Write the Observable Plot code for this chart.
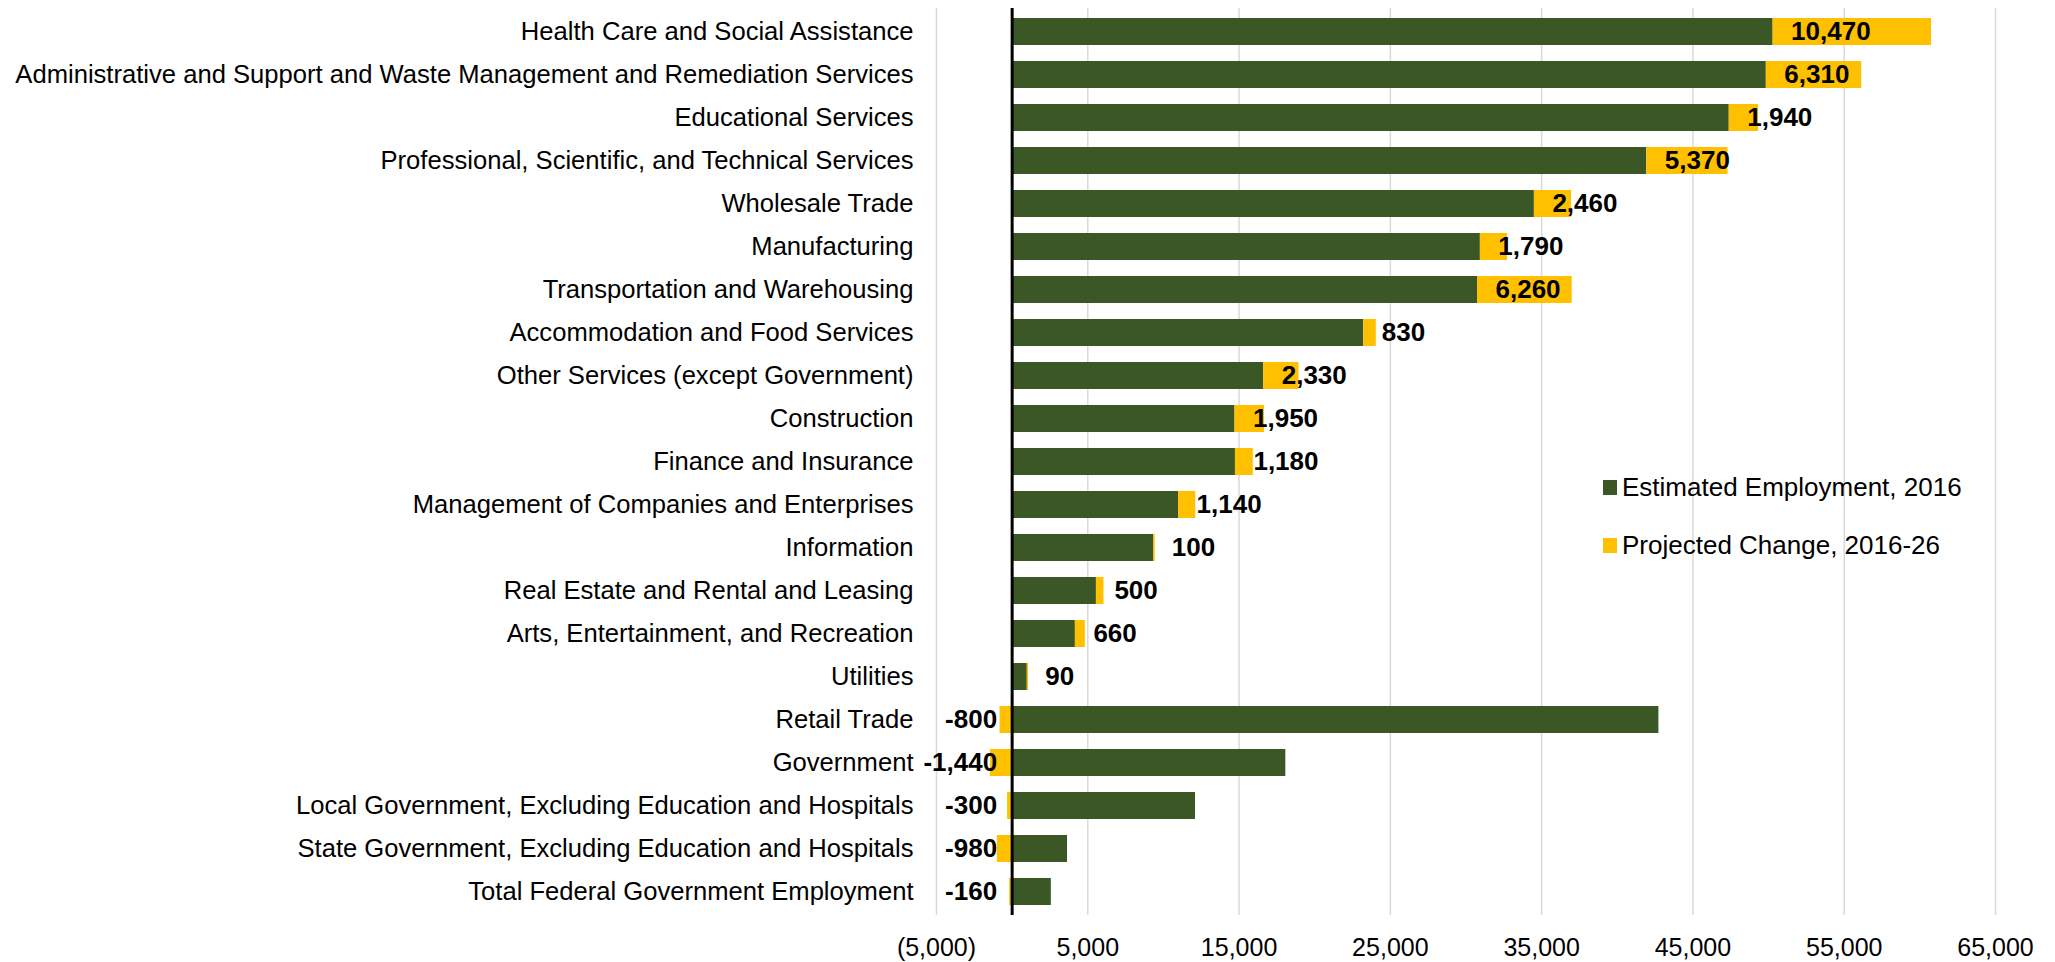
<!DOCTYPE html>
<html><head><meta charset="utf-8">
<script src="https://cdn.jsdelivr.net/npm/d3@7"></script>
<script src="https://cdn.jsdelivr.net/npm/@observablehq/plot@0.6"></script>
<style>
html,body{margin:0;padding:0;background:#fff;}
#wrap{position:relative;width:2055px;height:962px;}
.legend{position:absolute;left:1603px;top:469px;font-family:"Liberation Sans",Arial,sans-serif;font-size:26px;color:#000;}
.legend .row{display:flex;align-items:center;height:36px;margin-bottom:22px;white-space:nowrap;}
.legend .sw{width:14px;height:15px;margin-right:5px;flex:none;}
</style></head><body><div id="wrap"></div>
<script>
const industries = [
  "Health Care and Social Assistance",
  "Administrative and Support and Waste Management and Remediation Services",
  "Educational Services",
  "Professional, Scientific, and Technical Services",
  "Wholesale Trade",
  "Manufacturing",
  "Transportation and Warehousing",
  "Accommodation and Food Services",
  "Other Services (except Government)",
  "Construction",
  "Finance and Insurance",
  "Management of Companies and Enterprises",
  "Information",
  "Real Estate and Rental and Leasing",
  "Arts, Entertainment, and Recreation",
  "Utilities",
  "Retail Trade",
  "Government",
  "Local Government, Excluding Education and Hospitals",
  "State Government, Excluding Education and Hospitals",
  "Total Federal Government Employment"
];
const estimated = [50300, 49850, 47400, 41950, 34520, 30950, 30760, 23240, 16630, 14730, 14760, 11000, 9360, 5570, 4180, 1000, 42750, 18090, 12120, 3660, 2590];
const projected = [10470, 6310, 1940, 5370, 2460, 1790, 6260, 830, 2330, 1950, 1180, 1140, 100, 500, 660, 90, -800, -1440, -300, -980, -160];
const xTicks = [-5000, 5000, 15000, 25000, 35000, 45000, 55000, 65000];
const seriesNames = ["Estimated Employment, 2016", "Projected Change, 2016-26"];
const seriesColors = ["#3b5726", "#ffc000"];

const rows = industries.flatMap((ind, i) => [
  {industry: ind, series: seriesNames[0], value: estimated[i]},
  {industry: ind, series: seriesNames[1], value: projected[i]}
]);
const labels = industries.map((ind, i) => ({industry: ind, base: projected[i] >= 0 ? estimated[i] : 0, change: projected[i]}));
const fmt = d3.format(",");
const tickFmt = d => d < 0 ? `(${fmt(-d)})` : fmt(d);
const valFmt = d => (d < 0 ? "-" : "") + fmt(Math.abs(d));

const plot = Plot.plot({
  width: 2055,
  height: 962,
  marginLeft: 936,
  marginRight: 60,
  marginTop: 8,
  marginBottom: 47,
  style: {fontFamily: '"Liberation Sans", Arial, sans-serif', fontSize: "25px", color: "#000", background: "#fff"},
  x: {domain: [-5000, 65000]},
  y: {domain: industries, paddingInner: 0.375, paddingOuter: 0.1875},
  color: {domain: seriesNames, range: seriesColors},
  marks: [
    Plot.gridX(xTicks, {stroke: "#d9d9d9", strokeOpacity: 1, strokeWidth: 1.5}),
    Plot.barX(rows, Plot.stackX({x: "value", y: "industry", fill: "series"})),
    Plot.ruleX([0], {stroke: "#000", strokeWidth: 3}),
    Plot.text(labels.filter(d => d.change >= 0), {x: "base", y: "industry", text: d => valFmt(d.change), textAnchor: "start", dx: 18, fontWeight: "bold", fontSize: 26}),
    Plot.text(labels.filter(d => d.change < 0), {x: "base", y: "industry", text: d => valFmt(d.change), textAnchor: "end", dx: -15, fontWeight: "bold", fontSize: 26}),
    Plot.axisX({ticks: xTicks, tickFormat: tickFmt, tickSize: 0, tickPadding: 23, label: null, fontSize: 25}),
    Plot.axisY({tickSize: 0, tickPadding: 23, label: null, fontSize: 25.6})
  ]
});
const wrap = document.getElementById("wrap");
wrap.appendChild(plot);
const legend = document.createElement("div");
legend.className = "legend";
seriesNames.forEach((name, i) => {
  const row = document.createElement("div");
  row.className = "row";
  const sw = document.createElement("span");
  sw.className = "sw";
  sw.style.background = seriesColors[i];
  const t = document.createElement("span");
  t.textContent = name;
  row.appendChild(sw); row.appendChild(t);
  legend.appendChild(row);
});
wrap.appendChild(legend);
</script></body></html>
